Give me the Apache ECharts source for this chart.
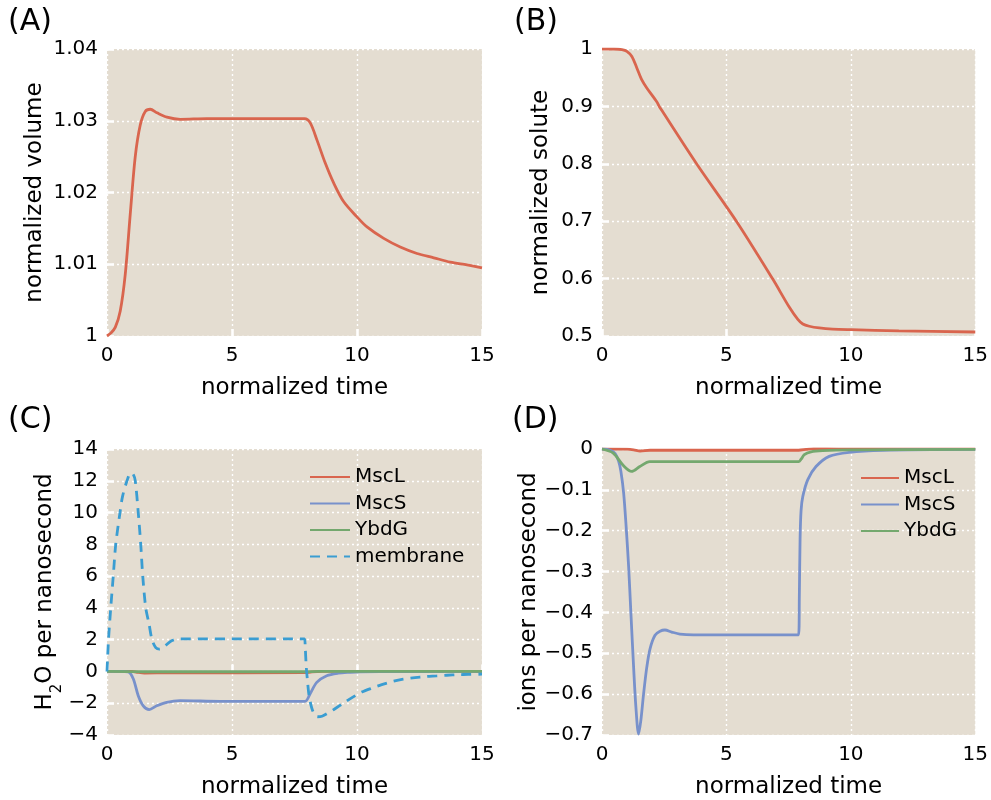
<!DOCTYPE html>
<html>
<head>
<meta charset="utf-8">
<style>
  html, body { margin: 0; padding: 0; background: #fff; }
  #chart { width: 991px; height: 800px; }
</style>
<script src="https://cdn.jsdelivr.net/npm/echarts@6/dist/echarts.min.js"></script>
</head>
<body>
<div id="chart"></div>
<script>
// ---- (A) normalized volume ----
const volumeTime = [0, 0.15, 0.33, 0.53, 0.73, 0.93, 1.13, 1.33, 1.53, 1.73, 2.0, 2.4, 2.93, 4, 5, 6, 7, 7.9, 8.13, 8.4, 8.73, 9.07, 9.47, 10, 10.4, 11.07, 11.73, 12.4, 13.07, 13.73, 14.4, 15];
const volumeValues = [1.0, 1.0004, 1.0012, 1.0035, 1.0086, 1.017, 1.025, 1.0294, 1.0313, 1.0316, 1.0311, 1.0305, 1.0302, 1.0303, 1.0303, 1.0303, 1.0303, 1.0303, 1.0297, 1.0273, 1.0241, 1.0213, 1.0187, 1.0166, 1.0152, 1.0136, 1.0124, 1.0115, 1.0109, 1.0103, 1.0099, 1.0095];

// ---- (B) normalized solute ----
const soluteTime = [0, 0.5, 0.8, 1.0, 1.2, 1.4, 1.6, 1.8, 2.2, 2.3, 3.8, 5.4, 6.85, 7.53, 7.87, 8.07, 8.33, 8.73, 9.27, 10, 11.93, 15];
const soluteValues = [1.0, 1.0, 0.999, 0.996, 0.987, 0.967, 0.946, 0.932, 0.908, 0.9, 0.8, 0.7, 0.6, 0.55, 0.529, 0.521, 0.517, 0.514, 0.512, 0.511, 0.509, 0.507];

// ---- (C) water flux, H2O per nanosecond ----
const waterMscLTime = [0, 1.0, 1.2, 1.5, 2.5, 7.9, 8.2, 8.6, 15];
const waterMscL = [0, 0, -0.05, -0.1, -0.09, -0.08, -0.03, 0, 0];
const waterMscSTime = [0, 0.6, 0.85, 1.05, 1.25, 1.45, 1.69, 1.99, 2.39, 2.92, 4.52, 7.92, 8.12, 8.39, 8.79, 9.25, 9.72, 10.1, 11, 15];
const waterMscS = [0, 0, -0.03, -0.46, -1.53, -2.16, -2.4, -2.16, -1.94, -1.84, -1.88, -1.88, -1.42, -0.69, -0.27, -0.11, -0.05, -0.02, -0.01, 0];
const waterYbdGTime = [0, 1.5, 3, 7.9, 8.5, 15];
const waterYbdG = [0, -0.02, -0.02, -0.02, 0, 0];
const waterMembraneTime = [0, 0.06, 0.15, 0.25, 0.35, 0.52, 0.62, 0.8, 0.95, 1.05, 1.13, 1.25, 1.35, 1.43, 1.55, 1.68, 1.8, 1.95, 2.1, 2.25, 2.55, 2.9, 5, 7.9, 7.93, 7.97, 8.02, 8.08, 8.19, 8.3, 8.42, 8.6, 8.8, 9.12, 9.45, 9.85, 10.19, 10.59, 10.99, 11.45, 11.85, 12.32, 12.72, 13.19, 13.59, 14.05, 14.45, 15];
const waterMembrane = [0, 2, 4, 6, 8, 10, 11, 12, 12.5, 12.4, 12, 10, 8, 6, 4, 3, 2, 1.5, 1.4, 1.5, 1.9, 2.05, 2.05, 2.05, 1.5, 0.3, -0.6, -1.5, -2.3, -2.7, -2.85, -2.82, -2.65, -2.35, -2.0, -1.6, -1.3, -1.05, -0.83, -0.62, -0.49, -0.39, -0.32, -0.28, -0.24, -0.2, -0.19, -0.17];

// ---- (D) ion flux, ions per nanosecond ----
const ionMscLTime = [0, 1.0, 1.27, 1.53, 1.93, 3, 7.9, 8.2, 8.5, 9.5, 15];
const ionMscL = [0, -0.0005, -0.002, -0.005, -0.003, -0.003, -0.003, -0.001, 0.001, 0.0005, 0.0003];
const ionMscSTime = [0, 0.33, 0.53, 0.67, 0.76, 0.87, 0.97, 1.07, 1.16, 1.27, 1.36, 1.47, 1.56, 1.67, 1.8, 1.93, 2.13, 2.33, 2.53, 2.8, 3.13, 3.67, 5, 7.9, 7.93, 7.96, 8.0, 8.07, 8.27, 8.6, 9.13, 9.93, 11.27, 15];
const ionMscS = [0, -0.003, -0.011, -0.03, -0.055, -0.108, -0.19, -0.288, -0.40, -0.534, -0.63, -0.698, -0.665, -0.60, -0.534, -0.489, -0.456, -0.446, -0.443, -0.448, -0.453, -0.455, -0.455, -0.455, -0.36, -0.22, -0.15, -0.116, -0.075, -0.043, -0.018, -0.008, -0.003, -0.001];
const ionYbdGTime = [0, 0.45, 0.85, 1.19, 1.52, 1.92, 2.85, 5, 7.9, 8.0, 8.13, 8.4, 8.87, 9.93, 15];
const ionYbdG = [0, -0.01, -0.04, -0.055, -0.043, -0.031, -0.031, -0.031, -0.031, -0.025, -0.014, -0.007, -0.004, -0.002, -0.001];

// ---- tick ranges ----
const timeTicks = { min: 0, max: 15, interval: 5 };
const volumeTicks = { min: 1, max: 1.04, interval: 0.01 };
const soluteTicks = { min: 0.5, max: 1, interval: 0.1 };
const waterTicks = { min: -4, max: 14, interval: 2 };
const ionTicks = { min: -0.7, max: 0, interval: 0.1 };

const FONT = 'DejaVu Sans';
const RED = '#d9654e';
const BLUE = '#7891cb';
const GREEN = '#74a86e';
const CYAN = '#3a9dd2';
const PANEL_BG = '#e4ddd1';

const pairs = (xs, ys) => xs.map((x, i) => [x, ys[i]]);
const fmt = v => String(parseFloat(Number(v).toFixed(3))).replace('-', '\u2212');

const grids = [
  { left: 107, top: 49, width: 375, height: 287 },
  { left: 602, top: 49, width: 375, height: 287 },
  { left: 107, top: 449, width: 375, height: 287 },
  { left: 602, top: 449, width: 375, height: 287 }
].map(g => Object.assign({ show: true, backgroundColor: PANEL_BG, borderWidth: 0 }, g));

const gridLine = { show: true, lineStyle: { color: '#ffffff', width: 1.4, type: [2, 3] } };
const tick = { show: true, inside: true, length: 7, lineStyle: { color: '#ffffff', width: 2.5 } };

function xAxis(i) {
  return Object.assign({
    type: 'value', gridIndex: i,
    name: 'normalized time', nameLocation: 'middle', nameGap: 41,
    nameTextStyle: { fontFamily: FONT, fontSize: 23, color: '#000' },
    axisLine: { show: false }, axisTick: tick,
    axisLabel: { fontFamily: FONT, fontSize: 20, color: '#000', margin: 10, formatter: fmt },
    splitLine: gridLine
  }, timeTicks);
}

function yAxis(i, ticks, name, gap, extra) {
  return Object.assign({
    type: 'value', gridIndex: i,
    name: name, nameLocation: 'middle', nameGap: gap,
    nameTextStyle: { fontFamily: FONT, fontSize: 23, color: '#000' },
    axisLine: { show: false }, axisTick: tick,
    axisLabel: { fontFamily: FONT, fontSize: 20, color: '#000', margin: 9, formatter: fmt },
    splitLine: gridLine
  }, ticks, extra || {});
}

function line(name, color, data, gi, dashed) {
  return {
    type: 'line', name: name, xAxisIndex: gi, yAxisIndex: gi,
    data: data, showSymbol: false, symbol: 'none',
    smooth: 0.3,
    lineStyle: { color: color, width: 2.8, type: dashed ? [10, 7] : 'solid' },
    itemStyle: { color: color },
    emphasis: { disabled: true }, animation: false
  };
}

const legendBase = {
  orient: 'vertical', padding: 0, itemHeight: 20, itemGap: 6.5,
  textStyle: { fontFamily: FONT, fontSize: 20, color: '#000' },
  itemStyle: { opacity: 0 },
  selectedMode: false
};

const panelLabel = (text, x, y) => ({
  type: 'text', left: x, top: y,
  style: { text: text, fontFamily: FONT, fontSize: 30, fill: '#000' }
});

const chart = echarts.init(document.getElementById('chart'), null, { renderer: 'canvas' });
chart.setOption({
  animation: false,
  backgroundColor: '#ffffff',
  grid: grids,
  xAxis: [xAxis(0), xAxis(1), xAxis(2), xAxis(3)],
  yAxis: [
    yAxis(0, volumeTicks, 'normalized volume', 60),
    yAxis(1, soluteTicks, 'normalized solute', 49),
    yAxis(2, waterTicks, '{n|H}{s|2}{n|O per nanosecond}', 41, {
      nameTextStyle: {
        fontFamily: FONT, fontSize: 23, color: '#000',
        rich: {
          n: { fontFamily: FONT, fontSize: 23, lineHeight: 40, verticalAlign: 'middle', color: '#000' },
          s: { fontFamily: FONT, fontSize: 15, lineHeight: 15, verticalAlign: 'bottom', color: '#000' }
        }
      }
    }),
    yAxis(3, ionTicks, 'ions per nanosecond', 59)
  ],
  legend: [
    Object.assign({}, legendBase, {
      left: 309, top: 467, itemWidth: 40,
      data: ['MscL', 'MscS', 'YbdG', 'membrane']
    }),
    Object.assign({}, legendBase, {
      left: 860, top: 468, itemWidth: 38,
      data: ['MscL', 'MscS', 'YbdG']
    })
  ],
  series: [
    line('volume', RED, pairs(volumeTime, volumeValues), 0),
    line('solute', RED, pairs(soluteTime, soluteValues), 1),
    line('MscL', RED, pairs(waterMscLTime, waterMscL), 2),
    line('MscS', BLUE, pairs(waterMscSTime, waterMscS), 2),
    line('YbdG', GREEN, pairs(waterYbdGTime, waterYbdG), 2),
    line('membrane', CYAN, pairs(waterMembraneTime, waterMembrane), 2, true),
    line('MscL', RED, pairs(ionMscLTime, ionMscL), 3),
    line('MscS', BLUE, pairs(ionMscSTime, ionMscS), 3),
    line('YbdG', GREEN, pairs(ionYbdGTime, ionYbdG), 3)
  ],
  graphic: [
    panelLabel('(A)', 8, 7),
    panelLabel('(B)', 514, 7),
    panelLabel('(C)', 8, 405),
    panelLabel('(D)', 512, 405)
  ]
});
</script>
</body>
</html>
